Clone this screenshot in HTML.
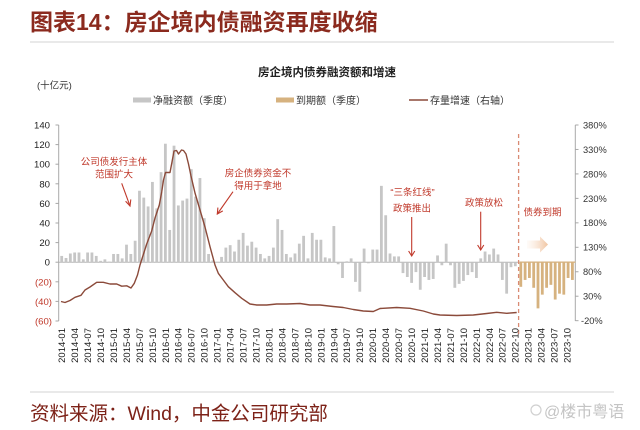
<!DOCTYPE html>
<html><head><meta charset="utf-8"><style>
html,body{margin:0;padding:0;background:#fff;width:640px;height:430px;overflow:hidden}
svg{display:block}
text{font-family:"Liberation Sans","Noto Sans CJK SC",sans-serif}
</style></head><body>
<svg width="640" height="430" viewBox="0 0 640 430" xmlns="http://www.w3.org/2000/svg">
<defs>
<linearGradient id="ag" x1="0" x2="1" y1="0" y2="0">
<stop offset="0" stop-color="#fbe9dc" stop-opacity="0.2"/>
<stop offset="1" stop-color="#f0c4a0"/>
</linearGradient>
</defs>
<!-- header -->
<text x="30" y="30" font-size="23" font-weight="bold" fill="#8b2a1e">图表14：房企境内债融资再度收缩</text>
<line x1="30" y1="42" x2="614" y2="42" stroke="#dcdcdc" stroke-width="1.2"/>
<text x="327" y="76" font-size="11.5" font-weight="bold" fill="#222" text-anchor="middle">房企境内债券融资额和增速</text>
<text x="37" y="88.5" font-size="9.5" fill="#333">(十亿元)</text>
<!-- legend -->
<rect x="133" y="97.5" width="18" height="5" fill="#c6c6c6"/>
<text x="153" y="104" font-size="10" fill="#333">净融资额（季度）</text>
<rect x="276" y="97.5" width="18" height="5" fill="#d6b27f"/>
<text x="296" y="104" font-size="10" fill="#333">到期额（季度）</text>
<line x1="409" y1="100" x2="428" y2="100" stroke="#8b4a3a" stroke-width="1.5"/>
<text x="430" y="104" font-size="10" fill="#333">存量增速（右轴）</text>

<!-- axes -->
<g stroke="#a8a8a8" stroke-width="1">
<line x1="58.7" y1="125" x2="58.7" y2="321"/>
<line x1="575.3" y1="125" x2="575.3" y2="321"/>
<line x1="55.5" y1="125" x2="58.7" y2="125"/><line x1="55.5" y1="144.6" x2="58.7" y2="144.6"/><line x1="55.5" y1="164.2" x2="58.7" y2="164.2"/><line x1="55.5" y1="183.8" x2="58.7" y2="183.8"/><line x1="55.5" y1="203.4" x2="58.7" y2="203.4"/><line x1="55.5" y1="223" x2="58.7" y2="223"/><line x1="55.5" y1="242.6" x2="58.7" y2="242.6"/><line x1="55.5" y1="262.2" x2="58.7" y2="262.2"/><line x1="55.5" y1="281.8" x2="58.7" y2="281.8"/><line x1="55.5" y1="301.4" x2="58.7" y2="301.4"/><line x1="55.5" y1="321" x2="58.7" y2="321"/>
<line x1="575.3" y1="125" x2="578.5" y2="125"/><line x1="575.3" y1="149.46" x2="578.5" y2="149.46"/><line x1="575.3" y1="173.92" x2="578.5" y2="173.92"/><line x1="575.3" y1="198.38" x2="578.5" y2="198.38"/><line x1="575.3" y1="222.84" x2="578.5" y2="222.84"/><line x1="575.3" y1="247.3" x2="578.5" y2="247.3"/><line x1="575.3" y1="271.76" x2="578.5" y2="271.76"/><line x1="575.3" y1="296.22" x2="578.5" y2="296.22"/><line x1="575.3" y1="320.68" x2="578.5" y2="320.68"/>
</g>
<g font-size="9.6" text-anchor="end" fill="#222">
<text x="50" y="128.5">140</text><text x="50" y="148.1">120</text><text x="50" y="167.7">100</text><text x="50" y="187.3">80</text><text x="50" y="206.9">60</text><text x="50" y="226.5">40</text><text x="50" y="246.1">20</text><text x="50" y="265.7">0</text>
<text x="52" y="285.3" fill="#c0392b">(20)</text><text x="52" y="304.9" fill="#c0392b">(40)</text><text x="52" y="324.5" fill="#c0392b">(60)</text>
</g>
<g font-size="9.3" fill="#333">
<text x="583" y="128.4">380%</text><text x="583" y="152.9">330%</text><text x="583" y="177.3">280%</text><text x="583" y="201.8">230%</text><text x="583" y="226.2">180%</text><text x="583" y="250.7">130%</text><text x="583" y="275.2">80%</text><text x="583" y="299.6">30%</text><text x="581" y="324.1">-20%</text>
</g>

<!-- zero baseline -->
<line x1="58.7" y1="262.3" x2="519" y2="262.3" stroke="#b5b5b5" stroke-width="1"/>

<!-- gray bars -->
<g fill="#c6c6c6">
<rect x="60.30" y="255.93" width="2.8" height="6.37"/>
<rect x="64.62" y="257.99" width="2.8" height="4.31"/>
<rect x="68.94" y="253.48" width="2.8" height="8.82"/>
<rect x="73.26" y="252.5" width="2.8" height="9.8"/>
<rect x="77.58" y="252.5" width="2.8" height="9.8"/>
<rect x="81.90" y="259.36" width="2.8" height="2.94"/>
<rect x="86.22" y="252.5" width="2.8" height="9.8"/>
<rect x="90.54" y="252.5" width="2.8" height="9.8"/>
<rect x="94.86" y="255.93" width="2.8" height="6.37"/>
<rect x="99.18" y="260.83" width="2.8" height="1.47"/>
<rect x="103.50" y="259.36" width="2.8" height="2.94"/>
<rect x="107.82" y="261.61" width="2.8" height="0.69"/>
<rect x="112.14" y="253.97" width="2.8" height="8.33"/>
<rect x="116.46" y="253.97" width="2.8" height="8.33"/>
<rect x="120.78" y="258.38" width="2.8" height="3.92"/>
<rect x="125.10" y="244.66" width="2.8" height="17.64"/>
<rect x="129.42" y="253.97" width="2.8" height="8.33"/>
<rect x="133.74" y="240.74" width="2.8" height="21.56"/>
<rect x="138.06" y="190.76" width="2.8" height="71.54"/>
<rect x="142.38" y="197.62" width="2.8" height="64.68"/>
<rect x="146.70" y="206.44" width="2.8" height="55.86"/>
<rect x="151.02" y="181.94" width="2.8" height="80.36"/>
<rect x="155.34" y="208.4" width="2.8" height="53.9"/>
<rect x="159.66" y="172.14" width="2.8" height="90.16"/>
<rect x="163.98" y="143.72" width="2.8" height="118.58"/>
<rect x="168.30" y="229.96" width="2.8" height="32.34"/>
<rect x="172.62" y="145.68" width="2.8" height="116.62"/>
<rect x="176.94" y="205.46" width="2.8" height="56.84"/>
<rect x="181.26" y="200.56" width="2.8" height="61.74"/>
<rect x="185.58" y="198.6" width="2.8" height="63.7"/>
<rect x="189.90" y="169.2" width="2.8" height="93.1"/>
<rect x="194.22" y="196.64" width="2.8" height="65.66"/>
<rect x="198.54" y="178.02" width="2.8" height="84.28"/>
<rect x="202.86" y="218.2" width="2.8" height="44.1"/>
<rect x="207.18" y="253.97" width="2.8" height="8.33"/>
<rect x="211.50" y="260.34" width="2.8" height="1.96"/>
<rect x="215.82" y="261.81" width="2.8" height="0.49"/>
<rect x="220.14" y="256.91" width="2.8" height="5.39"/>
<rect x="224.46" y="247.6" width="2.8" height="14.7"/>
<rect x="228.78" y="245.15" width="2.8" height="17.15"/>
<rect x="233.10" y="251.52" width="2.8" height="10.78"/>
<rect x="237.42" y="239.76" width="2.8" height="22.54"/>
<rect x="241.74" y="232.9" width="2.8" height="29.4"/>
<rect x="246.06" y="245.64" width="2.8" height="16.66"/>
<rect x="250.38" y="241.72" width="2.8" height="20.58"/>
<rect x="254.70" y="247.6" width="2.8" height="14.7"/>
<rect x="259.02" y="253.97" width="2.8" height="8.33"/>
<rect x="263.34" y="258.38" width="2.8" height="3.92"/>
<rect x="267.66" y="255.93" width="2.8" height="6.37"/>
<rect x="271.98" y="247.6" width="2.8" height="14.7"/>
<rect x="276.30" y="219.18" width="2.8" height="43.12"/>
<rect x="280.62" y="229.96" width="2.8" height="32.34"/>
<rect x="284.94" y="253.97" width="2.8" height="8.33"/>
<rect x="289.26" y="257.4" width="2.8" height="4.9"/>
<rect x="293.58" y="253.48" width="2.8" height="8.82"/>
<rect x="297.90" y="243.68" width="2.8" height="18.62"/>
<rect x="302.22" y="235.84" width="2.8" height="26.46"/>
<rect x="306.54" y="258.38" width="2.8" height="3.92"/>
<rect x="310.86" y="232.9" width="2.8" height="29.4"/>
<rect x="315.18" y="239.76" width="2.8" height="22.54"/>
<rect x="319.50" y="239.76" width="2.8" height="22.54"/>
<rect x="323.82" y="257.4" width="2.8" height="4.9"/>
<rect x="328.14" y="258.38" width="2.8" height="3.92"/>
<rect x="332.46" y="226.04" width="2.8" height="36.26"/>
<rect x="336.78" y="262.3" width="2.8" height="1.96"/>
<rect x="341.10" y="262.3" width="2.8" height="15.68"/>
<rect x="345.42" y="261.32" width="2.8" height="0.98"/>
<rect x="349.74" y="258.38" width="2.8" height="3.92"/>
<rect x="354.06" y="262.3" width="2.8" height="19.6"/>
<rect x="358.38" y="262.3" width="2.8" height="29.4"/>
<rect x="362.70" y="248.58" width="2.8" height="13.72"/>
<rect x="367.02" y="262.3" width="2.8" height="0.98"/>
<rect x="371.34" y="249.56" width="2.8" height="12.74"/>
<rect x="375.66" y="249.56" width="2.8" height="12.74"/>
<rect x="379.98" y="185.86" width="2.8" height="76.44"/>
<rect x="384.30" y="215.26" width="2.8" height="47.04"/>
<rect x="388.62" y="253.48" width="2.8" height="8.82"/>
<rect x="392.94" y="256.42" width="2.8" height="5.88"/>
<rect x="397.26" y="256.42" width="2.8" height="5.88"/>
<rect x="401.58" y="262.3" width="2.8" height="10.78"/>
<rect x="405.90" y="262.3" width="2.8" height="14.7"/>
<rect x="410.22" y="262.3" width="2.8" height="20.58"/>
<rect x="414.54" y="262.3" width="2.8" height="9.8"/>
<rect x="418.86" y="262.3" width="2.8" height="27.44"/>
<rect x="423.18" y="262.3" width="2.8" height="14.7"/>
<rect x="427.50" y="262.3" width="2.8" height="17.64"/>
<rect x="431.82" y="262.3" width="2.8" height="16.66"/>
<rect x="436.14" y="255.44" width="2.8" height="6.86"/>
<rect x="440.46" y="262.3" width="2.8" height="2.94"/>
<rect x="444.78" y="243.68" width="2.8" height="18.62"/>
<rect x="449.10" y="262.3" width="2.8" height="2.94"/>
<rect x="453.42" y="262.3" width="2.8" height="25.48"/>
<rect x="457.74" y="262.3" width="2.8" height="21.56"/>
<rect x="462.06" y="262.3" width="2.8" height="18.62"/>
<rect x="466.38" y="262.3" width="2.8" height="12.74"/>
<rect x="470.70" y="262.3" width="2.8" height="9.8"/>
<rect x="475.02" y="262.3" width="2.8" height="15.68"/>
<rect x="479.34" y="258.38" width="2.8" height="3.92"/>
<rect x="483.66" y="251.52" width="2.8" height="10.78"/>
<rect x="487.98" y="254.46" width="2.8" height="7.84"/>
<rect x="492.30" y="248.58" width="2.8" height="13.72"/>
<rect x="496.62" y="254.46" width="2.8" height="7.84"/>
<rect x="500.94" y="262.3" width="2.8" height="17.64"/>
<rect x="505.26" y="262.3" width="2.8" height="31.36"/>
<rect x="509.58" y="262.3" width="2.8" height="4.9"/>
<rect x="513.90" y="262.3" width="2.8" height="3.92"/>
</g>
<!-- tan bars -->
<g fill="#d6b27f">
<rect x="519.4" y="261.5" width="56" height="1.3"/>
<rect x="519.4" y="262.3" width="2.8" height="24.5"/>
<rect x="523.7" y="262.3" width="2.8" height="17.64"/>
<rect x="528.0" y="262.3" width="2.8" height="15.68"/>
<rect x="532.3" y="262.3" width="2.8" height="25.48"/>
<rect x="536.6" y="262.3" width="2.8" height="46.06"/>
<rect x="540.9" y="262.3" width="2.8" height="32.34"/>
<rect x="545.2" y="262.3" width="2.8" height="25.48"/>
<rect x="549.5" y="262.3" width="2.8" height="22.54"/>
<rect x="553.8" y="262.3" width="2.8" height="37.24"/>
<rect x="558.1" y="262.3" width="2.8" height="31.36"/>
<rect x="562.4" y="262.3" width="2.8" height="32.34"/>
<rect x="566.7" y="262.3" width="2.8" height="15.68"/>
<rect x="571.0" y="262.3" width="2.8" height="17.64"/>
</g>

<!-- dashed divider -->
<line x1="518.6" y1="134" x2="518.6" y2="334" stroke="#d98b74" stroke-width="1.3" stroke-dasharray="4,3"/>

<!-- growth line -->
<polyline fill="none" stroke="#8b4a3a" stroke-width="1.4" stroke-linejoin="round" points="61,301.5 65,302.5 70,300.5 75,297.3 81,295.3 85,290 90,287 96.7,282.3 103.3,282.3 110,284 116.7,284 121.7,286.2 126.7,285.8 131,288 134.3,283.3 137.5,275 140,265 143.5,254 146.7,244 151.7,231 155,218 159.3,205 161.7,192 163.5,180 165.5,172.5 170,172.5 172,162 174,151 176.5,150.5 178.5,154 181.5,150 183.5,150.5 186,154 188.5,164 191,176 195,193 200,210 205,227 210,246.7 215,265 218.3,273.3 223.3,280 228.3,286.7 235,292.7 241.7,298.3 250,304 256.7,305 266.7,305 276.7,304 286.7,304 300,303.5 310,305 320,305 333,306.5 343.3,307.5 353.3,309.5 363.3,311 373.3,311.5 380,308.5 396.7,307.5 410,308.3 423.3,311 433.3,314 440,315 456.7,315.5 473.3,315 486.7,313.5 496.7,312.3 506.7,313.3 516.7,312.5"/>

<!-- annotations -->
<g font-size="9.5" fill="#c0392b" text-anchor="middle">
<text x="114" y="165">公司债发行主体</text>
<text x="114" y="177.5">范围扩大</text>
<text x="258" y="176.5">房企债券资金不</text>
<text x="258" y="189">得用于拿地</text>
<text x="412.5" y="195.5">“三条红线”</text>
<text x="412" y="211.5">政策推出</text>
<text x="484" y="206">政策放松</text>
<text x="542.5" y="215.5">债券到期</text>
</g>
<g stroke="#c0392b" stroke-width="1.1" fill="none">
<line x1="121.7" y1="183.3" x2="130" y2="206"/>
<polyline points="125.6,201.2 130,206 130.8,199.4"/>
<line x1="233" y1="191.7" x2="217.3" y2="214"/>
<polyline points="217.9,207.6 217.3,214 222.8,210.9"/>
<line x1="411.7" y1="217" x2="411.7" y2="256"/>
<polyline points="408.6,251 411.7,256 414.8,251"/>
<line x1="480.7" y1="211.7" x2="480.7" y2="250"/>
<polyline points="477.6,245 480.7,250 483.8,245"/>
</g>
<!-- block arrow -->
<polygon points="527,240.5 540,240.5 540,236.5 548,244.5 540,252.5 540,248.5 527,248.5" fill="url(#ag)"/>

<!-- x labels -->
<g font-size="9.5" fill="#222" text-anchor="end">
<text transform="translate(65.1,328) rotate(-90)">2014-01</text>
<text transform="translate(78.06,328) rotate(-90)">2014-04</text>
<text transform="translate(91.02,328) rotate(-90)">2014-07</text>
<text transform="translate(103.98,328) rotate(-90)">2014-10</text>
<text transform="translate(116.94,328) rotate(-90)">2015-01</text>
<text transform="translate(129.9,328) rotate(-90)">2015-04</text>
<text transform="translate(142.86,328) rotate(-90)">2015-07</text>
<text transform="translate(155.82,328) rotate(-90)">2015-10</text>
<text transform="translate(168.78,328) rotate(-90)">2016-01</text>
<text transform="translate(181.74,328) rotate(-90)">2016-04</text>
<text transform="translate(194.7,328) rotate(-90)">2016-07</text>
<text transform="translate(207.66,328) rotate(-90)">2016-10</text>
<text transform="translate(220.62,328) rotate(-90)">2017-01</text>
<text transform="translate(233.58,328) rotate(-90)">2017-04</text>
<text transform="translate(246.54,328) rotate(-90)">2017-07</text>
<text transform="translate(259.5,328) rotate(-90)">2017-10</text>
<text transform="translate(272.46,328) rotate(-90)">2018-01</text>
<text transform="translate(285.42,328) rotate(-90)">2018-04</text>
<text transform="translate(298.38,328) rotate(-90)">2018-07</text>
<text transform="translate(311.34,328) rotate(-90)">2018-10</text>
<text transform="translate(324.3,328) rotate(-90)">2019-01</text>
<text transform="translate(337.26,328) rotate(-90)">2019-04</text>
<text transform="translate(350.22,328) rotate(-90)">2019-07</text>
<text transform="translate(363.18,328) rotate(-90)">2019-10</text>
<text transform="translate(376.14,328) rotate(-90)">2020-01</text>
<text transform="translate(389.1,328) rotate(-90)">2020-04</text>
<text transform="translate(402.06,328) rotate(-90)">2020-07</text>
<text transform="translate(415.02,328) rotate(-90)">2020-10</text>
<text transform="translate(427.98,328) rotate(-90)">2021-01</text>
<text transform="translate(440.94,328) rotate(-90)">2021-04</text>
<text transform="translate(453.9,328) rotate(-90)">2021-07</text>
<text transform="translate(466.86,328) rotate(-90)">2021-10</text>
<text transform="translate(479.82,328) rotate(-90)">2022-01</text>
<text transform="translate(492.78,328) rotate(-90)">2022-04</text>
<text transform="translate(505.74,328) rotate(-90)">2022-07</text>
<text transform="translate(518.7,328) rotate(-90)">2022-10</text>
<text transform="translate(531.66,328) rotate(-90)">2023-01</text>
<text transform="translate(544.62,328) rotate(-90)">2023-04</text>
<text transform="translate(557.58,328) rotate(-90)">2023-07</text>
<text transform="translate(570.54,328) rotate(-90)">2023-10</text>
</g>

<!-- footer -->
<line x1="30" y1="392" x2="614" y2="392" stroke="#dcdcdc" stroke-width="1.2"/>
<text x="30" y="420" font-size="19.5" fill="#7d2218">资料来源：Wind，中金公司研究部</text>
<circle cx="536" cy="410" r="5" fill="none" stroke="#d0d0d0" stroke-width="1.2"/>
<text x="544" y="417" font-size="16" fill="#c4c4c4">@楼市粤语</text>
</svg>
</body></html>
